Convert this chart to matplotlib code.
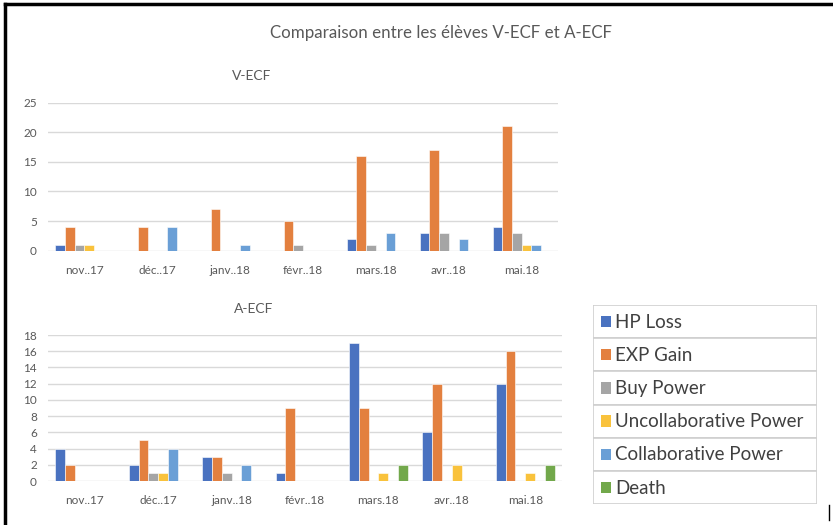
import matplotlib
matplotlib.use('Agg')
import matplotlib.pyplot as plt
import numpy as np
from matplotlib.lines import Line2D
from matplotlib.patches import Rectangle

plt.rcParams['font.family'] = ['Lato', 'DejaVu Sans']

# -------------------------- data --------------------------
months = ['nov..17', 'déc..17', 'janv..18', 'févr..18', 'mars.18', 'avr..18', 'mai.18']
series = ['HP Loss', 'EXP Gain', 'Buy Power', 'Uncollaborative Power',
          'Collaborative Power', 'Death']
colors = ['#4A72C0', '#E3803F', '#A5A5A5', '#F9C23C', '#6A9FD6', '#72A84B']

# V-ECF
v_hp_loss = [1, 0, 0, 0, 2, 3, 4]
v_exp_gain = [4, 4, 7, 5, 16, 17, 21]
v_buy_power = [1, 0, 0, 1, 1, 3, 3]
v_uncollab = [1, 0, 0, 0, 0, 0, 1]
v_collab = [0, 4, 1, 0, 3, 2, 1]
v_death = [0, 0, 0, 0, 0, 0, 0]

# A-ECF
a_hp_loss = [4, 2, 3, 1, 17, 6, 12]
a_exp_gain = [2, 5, 3, 9, 9, 12, 16]
a_buy_power = [0, 1, 1, 0, 0, 0, 0]
a_uncollab = [0, 1, 0, 0, 1, 2, 1]
a_collab = [0, 4, 2, 0, 0, 0, 0]
a_death = [0, 0, 0, 0, 2, 0, 2]

v_values = [v_hp_loss, v_exp_gain, v_buy_power, v_uncollab, v_collab, v_death]
a_values = [a_hp_loss, a_exp_gain, a_buy_power, a_uncollab, a_collab, a_death]

text_color = '#595959'
grid_color = '#d9d9d9'

fig = plt.figure(figsize=(8.33, 5.25), dpi=100)


def draw_panel(ax, values, ymax, step, title):
    x = np.arange(len(months))
    width = 0.8 / len(series)
    for i, vals in enumerate(values):
        ax.bar(x - 0.4 + width * (i + 0.5), vals, width=width, color=colors[i],
               edgecolor='white', linewidth=0.4, zorder=3)
    ax.set_xlim(-0.5, len(months) - 0.5)
    ax.set_ylim(0, ymax)
    ax.set_yticks(np.arange(0, ymax + 1, step))
    ax.set_xticks(x)
    ax.set_xticklabels(months)
    ax.tick_params(axis='both', length=0, labelsize=8.5, colors=text_color)
    ax.tick_params(axis='x', pad=10)
    ax.tick_params(axis='y', pad=8)
    ax.grid(axis='y', color=grid_color, linewidth=1, zorder=0)
    for s in ax.spines.values():
        s.set_visible(False)
    ax.set_title(title, fontsize=10, color=text_color, x=0.40, pad=16)


ax1 = fig.add_axes([0.0576, 0.5225, 0.6124, 0.2819])
draw_panel(ax1, v_values, 25, 5, 'V-ECF')

ax2 = fig.add_axes([0.0576, 0.0838, 0.617, 0.278])
draw_panel(ax2, a_values, 18, 2, 'A-ECF')
ax2.title.set_position((0.40, 1.0))

fig.text(0.53, 0.938, 'Comparaison entre les élèves V-ECF et A-ECF',
         ha='center', va='center', fontsize=12.2, color=text_color)

# legend as boxed rows
lg = fig.add_axes([593 / 833, 1 - 504 / 525, (817 - 593) / 833, (504 - 305) / 525])
lg.set_xlim(0, 1)
lg.set_ylim(len(series), 0)
lg.axis('off')
for i, name in enumerate(series):
    lg.add_patch(Rectangle((0, i), 1, 1, facecolor='white', edgecolor='#cfcfcf',
                           linewidth=1.2))
    lg.add_patch(Rectangle((0.035, i + 0.33), 0.045, 0.34, facecolor=colors[i],
                           edgecolor='none'))
    lg.text(0.1, i + 0.52, name, fontsize=13.5, color='#404040', va='center')

# outer frame
fig.add_artist(Line2D([5 / 833, 1], [1 - 4 / 525] * 2, color='black', lw=2.5))
fig.add_artist(Line2D([5 / 833] * 2, [0, 1 - 4 / 525], color='black', lw=2.5))
fig.add_artist(Line2D([829 / 833] * 2, [1 - 520 / 525, 1 - 505 / 525], color='black', lw=1))

fig.savefig('out.png', dpi=100)
